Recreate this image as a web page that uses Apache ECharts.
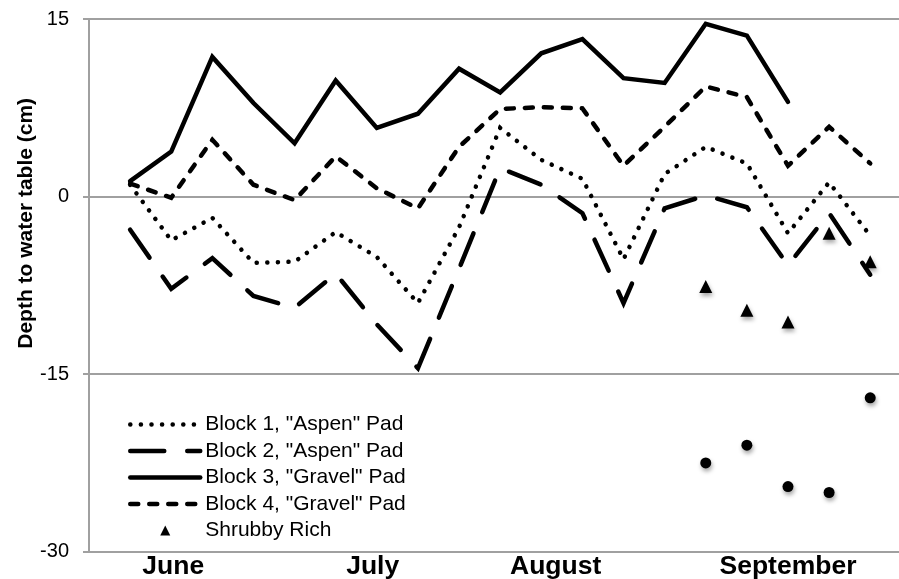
<!DOCTYPE html>
<html>
<head>
<meta charset="utf-8">
<script src="https://cdn.jsdelivr.net/npm/echarts@6/dist/echarts.min.js"></script>
<style>
html,body{margin:0;padding:0;background:#fff;}
#chart{width:899px;height:579px;}
</style>
</head>
<body>
<div id="chart"></div>
<script>
// sample index along the season
const samples = [0,1,2,3,4,5,6,7,8,9,10,11,12,13,14,15,16,17,18];
const block1 = [1.0,-3.7,-1.8,-5.6,-5.5,-3.0,-5.1,-9.0,-2.6,5.8,3.1,1.5,-5.3,1.9,4.2,2.8,-3.1,1.2,-3.3];
const block2 = [-2.8,-7.8,-5.2,-8.4,-9.4,-6.5,-10.8,-14.5,-6.1,2.4,1.0,-1.4,-9.0,-1.0,0.1,-0.9,-5.8,-1.4,-6.6];
const block3 = [1.3,3.8,11.8,7.9,4.5,9.8,5.8,7.0,10.8,8.8,12.1,13.3,10.0,9.6,14.6,13.6,8.0,null,null];
const block4 = [1.1,-0.1,4.8,1.0,-0.3,3.4,0.7,-1.0,4.2,7.4,7.55,7.45,2.6,5.9,9.3,8.4,2.6,5.9,2.8];
const shrubby = [null,null,null,null,null,null,null,null,null,null,null,null,null,null,-7.6,-9.6,-10.6,-3.1,-5.5];
const circles = [null,null,null,null,null,null,null,null,null,null,null,null,null,null,-22.5,-21.0,-24.5,-25.0,-17.0];
const seriesNames = ['Block 1, "Aspen" Pad','Block 2, "Aspen" Pad','Block 3, "Gravel" Pad','Block 4, "Gravel" Pad','Shrubby Rich'];
const monthLabels = ['June','July','August','September'];
const monthPos = [1.05, 5.9, 10.35, 16];
const yTicks = [-30,-15,0,15];

const FONT = "'Liberation Sans', Arial, Helvetica, sans-serif";
function pairs(arr){ return samples.map((x,i)=>[x,arr[i]]).filter(p=>p[1]!==null); }
const shadow = {shadowBlur:4, shadowColor:'rgba(0,0,0,0.35)', shadowOffsetX:1, shadowOffsetY:3};
const dashes = [[0.1,10.5],[34,23],'solid',[8,11]];
const LW = 4.5;

const chart = echarts.init(document.getElementById('chart'));
function lineSeries(name, arr, dash){
  return {
    name, type:'line', data:pairs(arr), symbol:'none', showSymbol:false,
    lineStyle:{color:'#000', width:LW, type:dash, cap:'round', join:'miter'},
    itemStyle:{color:'#000'}, animation:false, z:3
  };
}
const legendData = seriesNames.slice(0,4).map((n,i)=>({
  name:n,
  itemStyle:{opacity:0, color:'rgba(0,0,0,0)', borderWidth:0},
  lineStyle:{color:'#000', width:LW, type:dashes[i], cap:'round'}
}));
legendData.push({name:seriesNames[4], icon:'path://M5,0 L10,10 L0,10 Z', itemStyle:{color:'#000', opacity:1, shadowBlur:0, shadowOffsetX:0, shadowOffsetY:0}});

chart.setOption({
  animation:false,
  backgroundColor:'#fff',
  grid:{left:89, right:0, top:19, bottom:27.3, containLabel:false, outerBoundsMode:'none'},
  legend:{
    data:legendData,
    orient:'vertical', left:128, top:414, padding:0,
    itemWidth:70, itemHeight:10, itemGap:5.5, symbolKeepAspect:true,
    textStyle:{fontSize:21, color:'#000', fontFamily:FONT},
    selectedMode:false
  },
  xAxis:{
    type:'value', min:-1, max:18.7, interval:0.05,
    axisLine:{show:true, onZero:false, lineStyle:{color:'#a0a0a0', width:2}},
    axisTick:{show:false}, splitLine:{show:false},
    axisLabel:{
      margin:1, fontSize:26.5, fontWeight:'bold', color:'#000', fontFamily:FONT,
      showMinLabel:false, showMaxLabel:false,
      formatter:function(v){
        for(let i=0;i<monthPos.length;i++){ if(Math.abs(v-monthPos[i])<0.02) return monthLabels[i]; }
        return '';
      }
    }
  },
  yAxis:{
    type:'value', min:yTicks[0], max:yTicks[yTicks.length-1], interval:15,
    name:'Depth to water table (cm)', nameLocation:'middle', nameRotate:90, nameGap:52,
    nameMoveOverlap:false,
    nameTextStyle:{fontSize:21, fontWeight:'bold', color:'#000', fontFamily:FONT, padding:[0,0,0,124]},
    axisLine:{show:true, onZero:false, lineStyle:{color:'#a0a0a0', width:2}},
    axisTick:{show:true, length:6, lineStyle:{color:'#a0a0a0', width:2}},
    splitLine:{show:true, lineStyle:{color:'#a0a0a0', width:2}},
    axisLabel:{fontSize:20, color:'#000', margin:20, fontFamily:FONT}
  },
  series:[
    lineSeries(seriesNames[0], block1, dashes[0]),
    lineSeries(seriesNames[1], block2, dashes[1]),
    lineSeries(seriesNames[2], block3, dashes[2]),
    lineSeries(seriesNames[3], block4, dashes[3]),
    {name:seriesNames[4], type:'scatter', data:pairs(shrubby), symbol:'triangle', symbolSize:13,
     itemStyle:Object.assign({color:'#000', opacity:1}, shadow), z:4},
    {name:'Other', type:'scatter', data:pairs(circles), symbol:'circle', symbolSize:11,
     itemStyle:Object.assign({color:'#000', opacity:1}, shadow), z:4}
  ]
});
</script>
</body>
</html>
